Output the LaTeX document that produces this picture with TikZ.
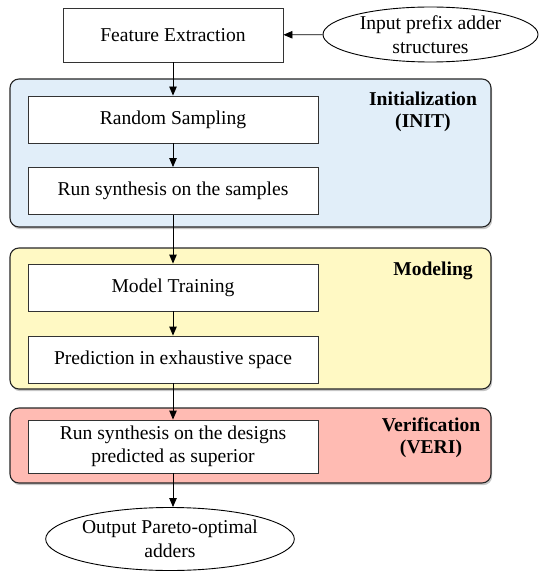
\documentclass[tikz,border=0pt]{standalone}
\usepackage{fontspec}
\setmainfont{Liberation Serif}
\usetikzlibrary{arrows.meta,shapes.geometric,shadows}
\definecolor{initfill}{RGB}{225,238,249}
\definecolor{modelfill}{RGB}{255,249,196}
\definecolor{verifill}{RGB}{255,187,179}
\tikzset{
  every node/.style={font=\fontsize{19.6}{23.5}\selectfont},
  stage/.style={draw=black!85, line width=1.1pt, rounded corners=9pt,
    drop shadow={shadow xshift=1.2pt, shadow yshift=-2.2pt, opacity=0.45}},
  stepbox/.style={draw=black!80, line width=0.9pt, fill=white, inner sep=0pt,
    minimum width=290pt, minimum height=47pt, align=center},
  terminal/.style={draw=black, line width=0.9pt, ellipse, inner sep=0pt, align=center},
  stagelabel/.style={font=\fontsize{19.6}{22}\selectfont\bfseries, align=center},
  flow/.style={draw=black, line width=0.9pt, -{Triangle[length=9pt,width=7.5pt]}}
}
\begin{document}
\begin{tikzpicture}[x=1pt,y=-1pt]
\useasboundingbox (0,0) rectangle (539,572);

% stage containers
\path[stage, fill=initfill]  (10,79)  rectangle (491,227);
\path[stage, fill=modelfill] (10,248) rectangle (491,389);
\path[stage, fill=verifill]  (10,408) rectangle (491,483);

\node[stagelabel] (initlbl) at (423,112) {Initialization\\(INIT)};
\node[stagelabel] (modlbl)  at (433,271) {Modeling};
\node[stagelabel] (verilbl) at (431,438) {Verification\\(VERI)};

% process steps
\node[stepbox, minimum width=220pt, minimum height=54pt] (feat) at (173,35) {Feature Extraction};
\node[terminal, minimum width=215pt, minimum height=55pt] (input) at (430.5,34.5) {Input prefix adder\\structures};

\node[stepbox] (rand)  at (173,119.5) {Random Sampling};
\node[stepbox] (synA)  at (173,191)   {Run synthesis on the samples};
\node[stepbox] (train) at (173,287.5) {Model Training};
\node[stepbox] (pred)  at (173,359.5) {Prediction in exhaustive space};
\node[stepbox, minimum height=53pt] (synB) at (173,446.5) {Run synthesis on the designs\\predicted as superior};

\node[terminal, minimum width=243pt, minimum height=63pt] (output) at (170,539) {Output Pareto-optimal\\adders};

% connectors
\draw[flow] (input) -- (feat);
\draw[flow] (feat) -- (rand);
\draw[flow] (rand) -- (synA);
\draw[flow] (synA) -- (train);
\draw[flow] (train) -- (pred);
\draw[flow] (pred) -- (synB);
\draw[flow] (synB.south) -- (synB.south |- output.north);
\end{tikzpicture}
\end{document}
